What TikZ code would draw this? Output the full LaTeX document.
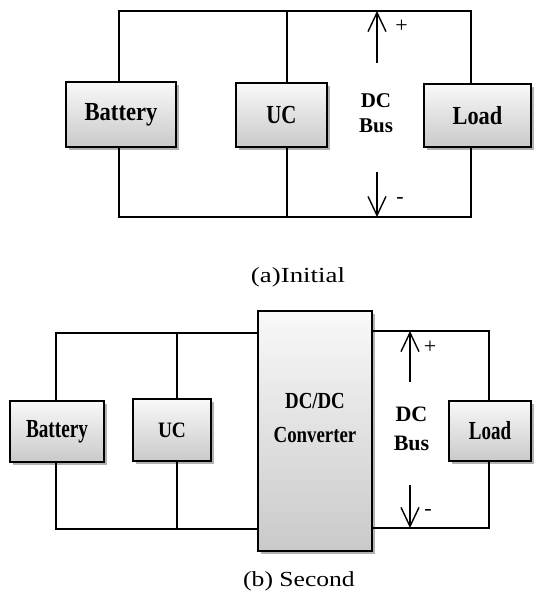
\documentclass[tikz,border=0pt]{standalone}
\usepackage{fontspec}
\usepackage{graphicx}
\setmainfont{Liberation Serif}
\usetikzlibrary{arrows.meta,shadows}
\newcommand\hsc[2]{\scalebox{#1}[1]{#2}}
\begin{document}
\begin{tikzpicture}[x=1pt,y=-1pt,
  blk/.style={draw=black, line width=1.8pt, top color=gray!5, bottom color=gray!42,
    drop shadow={shadow xshift=2.5pt, shadow yshift=-2.5pt, opacity=0.3, fill=black},
    inner sep=0pt, font=\bfseries\fontsize{26}{30}\selectfont},
  wire/.style={line width=1.4pt},
  busarrow/.style={line width=1.4pt, -{Straight Barb[length=19pt,width=18pt,line width=1.4pt]}},
  buslbl/.style={font=\bfseries\fontsize{21}{25}\selectfont, align=center, inner sep=0pt},
  sign/.style={font=\fontsize{22}{24}\selectfont, inner sep=0pt},
  captxt/.style={font=\fontsize{21.5}{24}\selectfont, inner sep=0pt}
]
\useasboundingbox (0,0) rectangle (539,598);

% ---------- (a) Initial ----------
\node[blk, minimum width=110pt, minimum height=65pt] (bat1) at (121,114.5) {\hsc{0.87}{Battery}};
\node[blk, minimum width=91pt, minimum height=64pt] (uc1) at (281.5,115) {\hsc{0.8}{UC}};
\node[blk, minimum width=107pt, minimum height=63pt] (load1) at (477.5,115.5) {\hsc{0.86}{Load}};

\coordinate (tA) at (119,11);  \coordinate (tB) at (471,11);
\coordinate (bA) at (119,217); \coordinate (bB) at (471,217);
\coordinate (tU) at (287,11);  \coordinate (bU) at (287,217);
\draw[wire] (bat1.north -| tA) -- (tA) -- (tB) -- (load1.north -| tB);
\draw[wire] (bat1.south -| bA) -- (bA) -- (bB) -- (load1.south -| bB);
\draw[wire] (tU) -- (uc1.north -| tU);
\draw[wire] (bU) -- (uc1.south -| bU);

\coordinate (pT1) at (377,11);  \coordinate (pS1) at (377,63);
\coordinate (mS1) at (377,172); \coordinate (mT1) at (377,217);
\draw[busarrow] (pS1) -- (pT1);
\draw[busarrow] (mS1) -- (mT1);
\node[sign] (plus1) at (401.5,26.5) {+};
\node[sign] (minus1) at (400,200) {-};
\node[buslbl] (bus1) at (376,113) {DC\\Bus};

\node[captxt] (capa) at (298,277) {\hsc{1.25}{(a)Initial}};

% ---------- (b) Second ----------
\node[blk, minimum width=94pt, minimum height=61pt] (bat2) at (57,431.5) {\hsc{0.74}{Battery}};
\node[blk, minimum width=78pt, minimum height=62pt, font=\bfseries\fontsize{22}{26}\selectfont] (uc2) at (172,430) {\hsc{0.88}{UC}};
\node[blk, minimum width=114pt, minimum height=240pt] (conv) at (315,431) {};
\node[font=\bfseries\fontsize{23}{34}\selectfont, align=center, inner sep=0pt] (convtxt) at (315,418) {\hsc{0.82}{DC/DC}\\\hsc{0.82}{Converter}};
\node[blk, minimum width=82pt, minimum height=60pt] (load2) at (490,431) {\hsc{0.73}{Load}};

\coordinate (LtA) at (56,333);  \coordinate (LbA) at (56,529);
\coordinate (LtU) at (177,333); \coordinate (LbU) at (177,529);
\coordinate (RtA) at (489,331); \coordinate (RbA) at (489,528);
\draw[wire] (bat2.north -| LtA) -- (LtA) -- (conv.west |- LtA);
\draw[wire] (bat2.south -| LbA) -- (LbA) -- (conv.west |- LbA);
\draw[wire] (LtU) -- (uc2.north -| LtU);
\draw[wire] (LbU) -- (uc2.south -| LbU);
\draw[wire] (conv.east |- RtA) -- (RtA) -- (load2.north -| RtA);
\draw[wire] (conv.east |- RbA) -- (RbA) -- (load2.south -| RbA);

\coordinate (pT2) at (410,331); \coordinate (pS2) at (410,382);
\coordinate (mS2) at (410,485); \coordinate (mT2) at (410,528);
\draw[busarrow] (pS2) -- (pT2);
\draw[busarrow] (mS2) -- (mT2);
\node[sign] (plus2) at (430,347) {+};
\node[sign] (minus2) at (428,512) {-};
\node[buslbl, font=\bfseries\fontsize{22}{29}\selectfont] (bus2) at (411.5,429) {DC\\Bus};

\node[captxt] (capb) at (299,581) {\hsc{1.19}{(b) Second}};
\end{tikzpicture}
\end{document}
